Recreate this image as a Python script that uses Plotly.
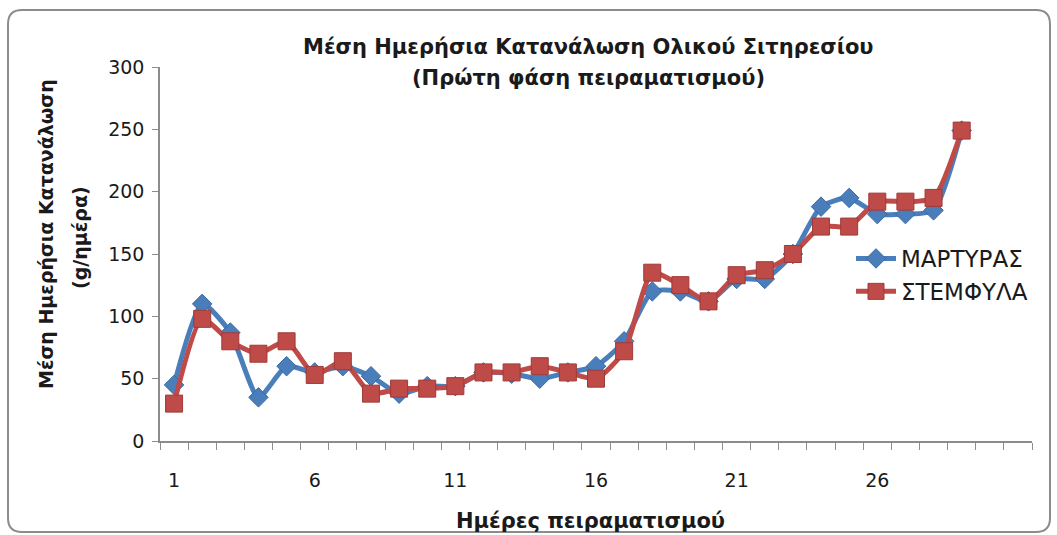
import plotly.graph_objects as go

# Daily feed intake, first experimental phase (days 1-29)
days = list(range(1, 30))
martyras = [45, 110, 87, 35, 60, 55, 60, 52, 38, 44, 44, 55, 54, 50, 55, 60, 80,
            120, 120, 112, 130, 130, 150, 188, 195, 182, 182, 185, 249]
stemfyla = [30, 98, 80, 70, 80, 53, 64, 38, 42, 42, 44, 55, 55, 60, 55, 50, 72,
            135, 125, 112, 133, 137, 150, 172, 172, 192, 192, 195, 249]
x_ticks = [1, 6, 11, 16, 21, 26]
y_ticks = [0, 50, 100, 150, 200, 250, 300]

W, H = 1057, 535
ML, MR, MT, MB = 160, 25, 67, 94
PW, PH = W - ML - MR, H - MT - MB

BLUE = "#4A7EBB"
RED = "#BE4B48"
FONT = "DejaVu Sans"
TXT = "#1a1a1a"


def px(x):
    return (x - ML) / PW


def py(y):
    return (H - MB - y) / PH


fig = go.Figure()
fig.add_trace(go.Scatter(
    x=days, y=martyras, name="ΜΑΡΤΥΡΑΣ", mode="lines+markers",
    line=dict(color=BLUE, width=5, shape="spline", smoothing=0.6),
    marker=dict(symbol="diamond", size=15, color=BLUE,
                line=dict(color="#3A6AA5", width=1)),
))
fig.add_trace(go.Scatter(
    x=days, y=stemfyla, name="ΣΤΕΜΦΥΛΑ", mode="lines+markers",
    line=dict(color=RED, width=5, shape="spline", smoothing=0.6),
    marker=dict(symbol="square", size=17, color=RED,
                line=dict(color="#A03A38", width=1)),
))

# rounded chart frame
x0, x1, y0, y1, r = 8, 1050, 10, 532, 14
path = (f"M {px(x0 + r)},{py(y0)} L {px(x1 - r)},{py(y0)} "
        f"Q {px(x1)},{py(y0)} {px(x1)},{py(y0 + r)} "
        f"L {px(x1)},{py(y1 - r)} Q {px(x1)},{py(y1)} {px(x1 - r)},{py(y1)} "
        f"L {px(x0 + r)},{py(y1)} Q {px(x0)},{py(y1)} {px(x0)},{py(y1 - r)} "
        f"L {px(x0)},{py(y0 + r)} Q {px(x0)},{py(y0)} {px(x0 + r)},{py(y0)} Z")
fig.add_shape(type="path", path=path, xref="paper", yref="paper",
              line=dict(color="#8C8C8C", width=2), layer="below")

fig.add_annotation(
    text="<b>Μέση Ημερήσια Κατανάλωση Ολικού Σιτηρεσίου</b>",
    xref="paper", yref="paper", x=px(588), y=py(47), showarrow=False,
    xanchor="center", yanchor="middle",
    font=dict(family=FONT, size=21, color=TXT))
fig.add_annotation(
    text="<b>(Πρώτη φάση πειραματισμού)</b>",
    xref="paper", yref="paper", x=px(588), y=py(78), showarrow=False,
    xanchor="center", yanchor="middle",
    font=dict(family=FONT, size=21, color=TXT))
fig.add_annotation(
    text="<b>Ημέρες πειραματισμού</b>", xref="paper", yref="paper",
    x=px(590), y=py(521), showarrow=False, xanchor="center", yanchor="middle",
    font=dict(family=FONT, size=21, color=TXT))
fig.add_annotation(
    text="<b>Μέση Ημερήσια Κατανάλωση</b>", xref="paper", yref="paper",
    x=px(46), y=py(234), showarrow=False, textangle=-90,
    xanchor="center", yanchor="middle",
    font=dict(family=FONT, size=19, color=TXT))
fig.add_annotation(
    text="<b>(g/ημέρα)</b>", xref="paper", yref="paper",
    x=px(80), y=py(238), showarrow=False, textangle=-90,
    xanchor="center", yanchor="middle",
    font=dict(family=FONT, size=19, color=TXT))

fig.update_layout(
    width=W, height=H,
    margin=dict(l=ML, r=MR, t=MT, b=MB),
    paper_bgcolor="white", plot_bgcolor="white",
    font=dict(family=FONT, size=19, color=TXT),
    showlegend=True,
    legend=dict(x=px(851), y=py(237), xanchor="left", yanchor="top",
                bgcolor="rgba(255,255,255,0)", font=dict(family=FONT, size=23),
                itemwidth=40, tracegroupgap=22),
    xaxis=dict(range=[0.5, 31.5], tickmode="array", tickvals=x_ticks,
               ticktext=[str(v) for v in x_ticks], ticks="",
               showline=True, linecolor="#8C8C8C", linewidth=1.5,
               showgrid=False, zeroline=False, ticklabelstandoff=21,
               minor=dict(tickmode="linear", tick0=0.5, dtick=1, ticks="outside",
                          ticklen=7, tickcolor="#8C8C8C", showgrid=False)),
    yaxis=dict(range=[0, 300], tickmode="array", tickvals=y_ticks,
               ticks="outside", ticklen=6, tickcolor="#8C8C8C",
               showline=True, linecolor="#8C8C8C", linewidth=1.5,
               showgrid=False, zeroline=False, ticklabelstandoff=4),
)

fig.write_html("out.html")
